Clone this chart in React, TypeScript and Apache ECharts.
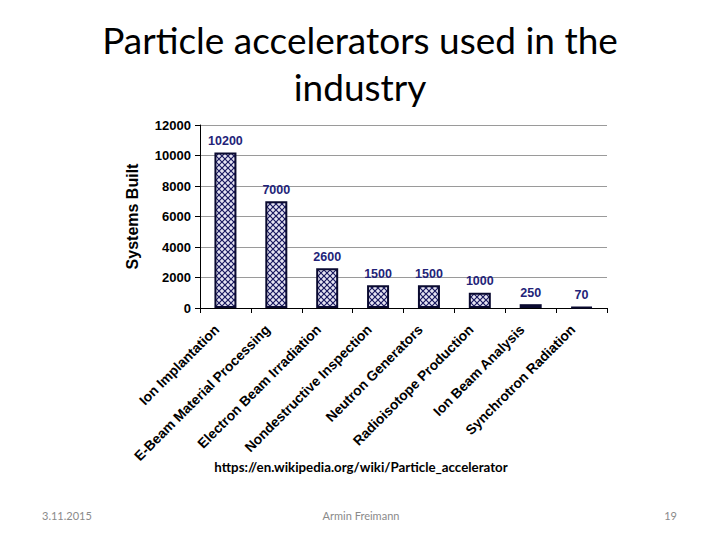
import { useEffect, useRef } from 'react'
import * as echarts from 'echarts'

const categories = [
  'Ion Implantation',
  'E-Beam Material Processing',
  'Electron Beam Irradiation',
  'Nondestructive Inspection',
  'Neutron Generators',
  'Radioisotope Production',
  'Ion Beam Analysis',
  'Synchrotron Radiation',
]
const systemsBuilt = [10200, 7000, 2600, 1500, 1500, 1000, 250, 70]
const yMax = 12000
const yStep = 2000

const titleText = 'Particle accelerators used in the\nindustry'
const sourceText = 'https://en.wikipedia.org/wiki/Particle_accelerator'
const footerDate = '3.11.2015'
const footerAuthor = 'Armin Freimann'
const footerPage = '19'

// small crosshatch tile for the bars
function makeHatch(): HTMLCanvasElement {
  const c = document.createElement('canvas')
  c.width = 6
  c.height = 6
  const ctx = c.getContext('2d')!
  ctx.fillStyle = '#e6e4f2'
  ctx.fillRect(0, 0, 6, 6)
  ctx.strokeStyle = '#18185e'
  ctx.lineWidth = 1.2
  ctx.beginPath()
  ctx.moveTo(0, 0)
  ctx.lineTo(6, 6)
  ctx.moveTo(6, 0)
  ctx.lineTo(0, 6)
  ctx.stroke()
  return c
}

export default function App() {
  const chartRef = useRef<HTMLDivElement>(null)

  useEffect(() => {
    if (!chartRef.current) return
    const chart = echarts.init(chartRef.current, null, { renderer: 'svg' })
    const hatch = makeHatch()

    const option: echarts.EChartsOption = {
      animation: false,
      backgroundColor: '#ffffff',
      title: {
        text: titleText,
        left: 'center',
        top: 11,
        textStyle: {
          fontFamily: 'Lato',
          fontSize: 37,
          fontWeight: 'normal',
          lineHeight: 47,
          color: '#000000',
        },
      },
      grid: { left: 200, right: 113, top: 125, bottom: 232 },
      xAxis: {
        type: 'category',
        data: categories,
        axisLine: { lineStyle: { color: '#000000', width: 1 } },
        axisTick: { show: true, length: 5, lineStyle: { color: '#000000' } },
        axisLabel: {
          interval: 0,
          rotate: 45,
          margin: 11,
          padding: [0, 12, 0, 0],
          fontFamily: 'Liberation Sans',
          fontSize: 13.8,
          fontWeight: 'bold',
          color: '#000000',
        },
      },
      yAxis: {
        type: 'value',
        min: 0,
        max: yMax,
        interval: yStep,
        name: 'Systems Built',
        nameLocation: 'middle',
        nameGap: 60,
        nameTextStyle: {
          fontFamily: 'Liberation Sans',
          fontSize: 16,
          fontWeight: 'bold',
          color: '#000000',
        },
        axisLine: { show: true, lineStyle: { color: '#000000', width: 1 } },
        axisTick: { show: true, length: 5, lineStyle: { color: '#000000' } },
        axisLabel: {
          margin: 9,
          formatter: (v: number) => String(v),
          fontFamily: 'Liberation Sans',
          fontSize: 13,
          fontWeight: 'bold',
          color: '#000000',
        },
        splitLine: { lineStyle: { color: '#9a9a9a', width: 1 } },
      },
      series: [
        {
          type: 'bar',
          data: systemsBuilt,
          barWidth: 22,
          itemStyle: {
            color: { image: hatch, repeat: 'repeat' } as any,
            borderColor: '#0a0a30',
            borderWidth: 2,
          },
          label: {
            show: true,
            position: 'top',
            distance: 5,
            fontFamily: 'Liberation Sans',
            fontSize: 12.5,
            fontWeight: 'bold',
            color: '#232378',
          },
        },
      ],
      graphic: [
        {
          type: 'text',
          x: 361,
          y: 467,
          style: {
            text: sourceText,
            fontFamily: 'Lato',
            fontSize: 13.3,
            fontWeight: 'bold',
            fill: '#000000',
            textAlign: 'center',
            textVerticalAlign: 'middle',
          },
        },
        {
          type: 'text',
          x: 42,
          y: 515,
          style: {
            text: footerDate,
            fontFamily: 'Lato',
            fontSize: 11,
            fill: '#8a8a8a',
            textAlign: 'left',
            textVerticalAlign: 'middle',
          },
        },
        {
          type: 'text',
          x: 361,
          y: 515,
          style: {
            text: footerAuthor,
            fontFamily: 'Lato',
            fontSize: 11,
            fill: '#8a8a8a',
            textAlign: 'center',
            textVerticalAlign: 'middle',
          },
        },
        {
          type: 'text',
          x: 677,
          y: 515,
          style: {
            text: footerPage,
            fontFamily: 'Lato',
            fontSize: 11,
            fill: '#8a8a8a',
            textAlign: 'right',
            textVerticalAlign: 'middle',
          },
        },
      ],
    }

    chart.setOption(option)
    return () => {
      chart.dispose()
    }
  }, [])

  return (
    <div
      ref={chartRef}
      style={{ position: 'absolute', left: 0, top: 0, width: 720, height: 540 }}
    />
  )
}
